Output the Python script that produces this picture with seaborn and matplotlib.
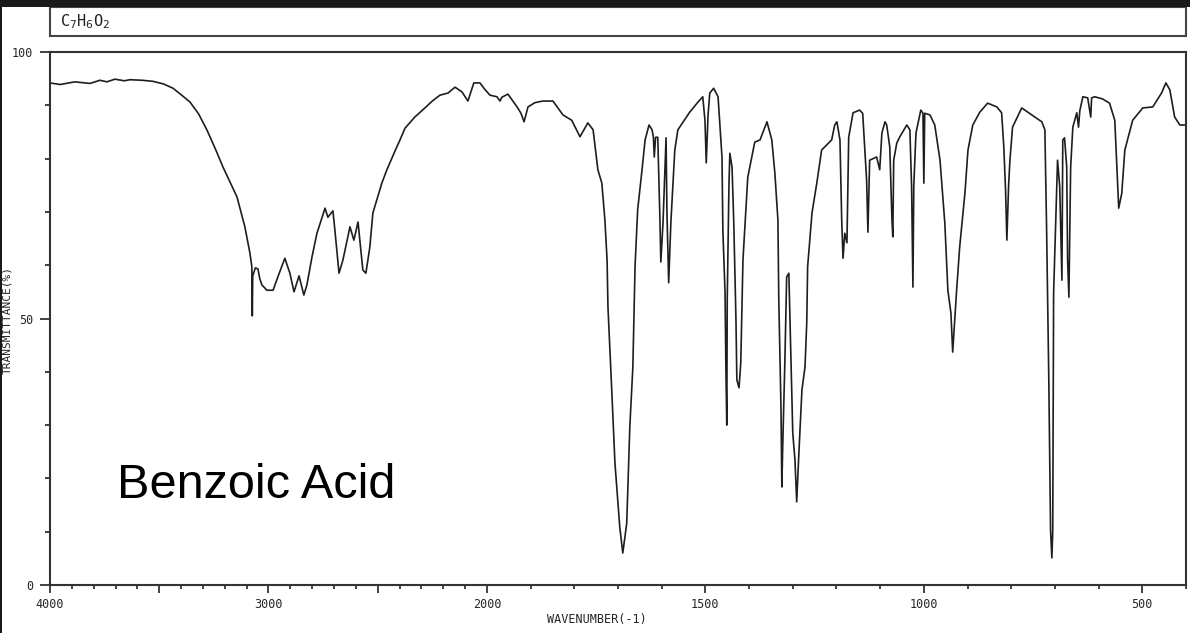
import numpy as np
import pandas as pd
import seaborn as sns
import matplotlib.pyplot as plt
from matplotlib.patches import Rectangle
from matplotlib.ticker import FixedLocator

sns.set_style("white")
plt.rcParams['font.family'] = ['DejaVu Sans Mono']

# IR spectrum of benzoic acid
wavenumber = [
    4000, 3954, 3886, 3817, 3771, 3740, 3703, 3660, 3634, 3580, 3529, 3480, 3437, 3400,
    3359, 3320, 3282, 3245, 3208, 3175, 3144, 3108, 3085, 3076, 3074, 3072, 3060, 3048,
    3040, 3030, 3007, 2979, 2957, 2925, 2902, 2883, 2860, 2838, 2824, 2801, 2778, 2741,
    2728, 2705, 2696, 2677, 2659, 2627, 2609, 2590, 2568, 2554, 2536, 2522, 2481, 2458,
    2420, 2398, 2375, 2330, 2284, 2250, 2215, 2178, 2146, 2114, 2087, 2060, 2032, 2010,
    1993, 1977, 1970, 1966, 1952, 1931, 1922, 1915, 1906, 1890, 1872, 1849, 1826, 1806,
    1787, 1769, 1757, 1746, 1737, 1730, 1725, 1723, 1714, 1707, 1696, 1689, 1680, 1673,
    1666, 1661, 1655, 1645, 1638, 1629, 1622, 1619, 1617, 1614, 1609, 1604, 1602, 1597,
    1590, 1588, 1584, 1579, 1570, 1563, 1536, 1517, 1506, 1501, 1498, 1494, 1490, 1481,
    1471, 1462, 1460, 1455, 1453, 1451, 1450, 1446, 1444, 1439, 1435, 1430, 1428, 1423,
    1419, 1414, 1403, 1387, 1375, 1359, 1348, 1341, 1334, 1332, 1327, 1325, 1323, 1318,
    1314, 1309, 1304, 1300, 1295, 1291, 1286, 1279, 1272, 1268, 1266, 1256, 1245, 1234,
    1222, 1211, 1204, 1199, 1192, 1188, 1185, 1181, 1176, 1172, 1162, 1147, 1140, 1131,
    1128, 1124, 1108, 1101, 1096, 1089, 1085, 1078, 1073, 1071, 1069, 1062, 1055, 1039,
    1032, 1028, 1025, 1023, 1018, 1007, 1002, 1000, 998, 986, 975, 963, 952, 945,
    938, 934, 929, 925, 918, 906, 899, 888, 872, 854, 833, 822, 817, 813,
    810, 806, 803, 797, 776, 753, 730, 723, 719, 714, 710, 707, 705, 703,
    696, 694, 689, 684, 682, 678, 673, 671, 668, 664, 659, 650, 646, 643,
    636, 625, 618, 616, 609, 591, 575, 563, 559, 554, 547, 540, 522, 499,
    476, 456, 446, 437, 426, 414, 403,
]
transmittance = [
    94.2, 93.9, 94.4, 94.1, 94.7, 94.4, 94.9, 94.6, 94.8, 94.7, 94.5, 94.0, 93.2, 92.0,
    90.6, 88.4, 85.4, 82.0, 78.4, 75.5, 72.8, 67.2, 62.3, 59.7, 50.5, 58.0, 59.5, 59.3,
    57.5, 56.3, 55.3, 55.3, 57.8, 61.3, 58.5, 55.0, 58.0, 54.4, 56.3, 61.5, 66.0, 70.7,
    69.0, 70.2, 66.6, 58.5, 61.0, 67.2, 64.7, 68.1, 59.1, 58.5, 63.4, 69.8, 75.4, 77.9,
    81.5, 83.5, 85.7, 87.8, 89.5, 90.8, 91.9, 92.3, 93.4, 92.5, 90.8, 94.2, 94.2, 93.0,
    91.9, 91.6, 90.8, 91.5, 92.1, 89.7, 88.5, 86.9, 89.7, 90.5, 90.8, 90.8, 88.2, 87.2,
    84.1, 86.7, 85.4, 77.9, 75.4, 68.5, 61.0, 52.2, 36.0, 22.9, 10.9, 6.0, 11.6, 29.6,
    40.9, 59.7, 70.4, 77.9, 83.5, 86.3, 85.4, 84.0, 80.3, 84.0, 84.0, 68.5, 60.6, 67.9,
    83.9, 70.0, 56.7, 68.0, 81.6, 85.4, 88.7, 90.6, 91.6, 87.2, 79.2, 88.0, 92.3, 93.2,
    91.6, 80.3, 66.6, 54.8, 40.3, 30.0, 53.5, 75.4, 81.0, 78.4, 67.9, 49.7, 38.5, 37.0,
    41.7, 61.0, 76.5, 83.1, 83.5, 86.9, 83.5, 77.3, 68.5, 53.5, 33.4, 18.4, 26.0, 42.2,
    57.8, 58.5, 42.0, 28.5, 23.5, 15.6, 24.8, 36.6, 40.9, 49.2, 59.7, 69.8, 75.4, 81.6,
    82.6, 83.5, 86.3, 86.9, 83.5, 68.5, 61.3, 66.0, 64.2, 84.0, 88.6, 89.1, 88.5, 76.0,
    66.2, 79.7, 80.3, 77.9, 84.8, 86.9, 86.3, 82.2, 68.5, 65.3, 79.7, 82.9, 84.1, 86.3,
    85.4, 74.7, 55.9, 75.0, 84.8, 89.1, 88.5, 75.4, 88.5, 88.2, 86.3, 79.7, 67.9, 55.3,
    51.0, 43.7, 50.3, 55.3, 63.4, 73.5, 81.6, 86.3, 88.7, 90.4, 89.7, 88.6, 82.2, 74.1,
    64.7, 75.0, 79.7, 85.9, 89.5, 88.2, 86.9, 85.4, 66.6, 38.5, 10.3, 5.1, 10.0, 54.8,
    74.7, 79.7, 74.7, 57.2, 83.5, 83.9, 78.4, 61.0, 54.0, 78.4, 85.9, 88.6, 85.9, 89.0,
    91.6, 91.4, 87.8, 91.4, 91.6, 91.2, 90.4, 87.2, 79.7, 70.7, 73.5, 81.6, 87.2, 89.5,
    89.7, 92.3, 94.2, 92.9, 87.8, 86.3, 86.3,
]

x_major = [4000, 3500, 3000, 2500, 2000, 1500, 1000, 500]
x_labels = ["4000", "", "3000", "", "2000", "1500", "1000", "500"]
y_major = [0, 50, 100]
y_labels = ["0", "50", "100"]

df = pd.DataFrame({"wavenumber": wavenumber, "transmittance": transmittance})


# the chart squeezes the range above 2000 to half scale
def fwd(w):
    w = np.asarray(w, dtype=float)
    return np.where(w > 2000, 2000 + (w - 2000) / 2, w)


def inv(u):
    u = np.asarray(u, dtype=float)
    return np.where(u > 2000, 2000 + (u - 2000) * 2, u)


fig = plt.figure(figsize=(11.9, 6.33), dpi=100)
ax = fig.add_axes([50 / 1190, 1 - 585 / 633, 1136 / 1190, 533 / 633])

sns.lineplot(data=df, x="wavenumber", y="transmittance", ax=ax,
             estimator=None, sort=False, color="#1e1e1e", lw=1.2)

ax.set_xscale("function", functions=(fwd, inv))
ax.set_xlim(4000, 400)
ax.set_ylim(0, 100)

ax.xaxis.set_major_locator(FixedLocator(x_major))
ax.set_xticklabels(x_labels)
ax.xaxis.set_minor_locator(FixedLocator([w for w in range(400, 4000, 100) if w not in x_major]))
ax.set_yticks(y_major)
ax.set_yticklabels(y_labels)
ax.yaxis.set_minor_locator(FixedLocator([10, 20, 30, 40, 60, 70, 80, 90]))

ax.tick_params(axis="x", which="major", direction="out", length=6, width=1.3,
               color="#333333", labelsize=8.5, pad=3)
ax.tick_params(axis="x", which="minor", direction="out", length=3, width=1.3, color="#333333")
ax.tick_params(axis="y", which="major", direction="out", length=7, width=1.3,
               color="#333333", labelsize=8.5, pad=5)
ax.tick_params(axis="y", which="minor", direction="out", length=3.5, width=1.3, color="#333333")
ax.tick_params(bottom=True, left=True, which="both")

for s in ax.spines.values():
    s.set_color("#333333")
    s.set_linewidth(1.5)

ax.set_xlabel("WAVENUMBER(-1)", fontsize=8.5, labelpad=4)
ax.xaxis.set_label_coords((597 - 50) / 1136, -28 / 533)
ax.set_ylabel("TRANSMITTANCE(%)", fontsize=8)
ax.yaxis.set_label_coords(-38 / 1136, (585 - 320) / 533)

# formula box above the plot
box = Rectangle((50 / 1190, 1 - 36 / 633), 1136 / 1190, 29 / 633, transform=fig.transFigure,
                fill=False, edgecolor="#444444", lw=1.5)
fig.patches.append(box)
fig.text(60 / 1190, 1 - 22 / 633, r"C$_7$H$_6$O$_2$", fontsize=11, va="center", ha="left",
         color="#222222")

# black band at top, thin rule at left
fig.patches.append(Rectangle((0, 1 - 7 / 633), 1, 7 / 633, transform=fig.transFigure,
                             color="#1a1a1a", lw=0))
fig.patches.append(Rectangle((0, 0), 2 / 1190, 1, transform=fig.transFigure,
                             color="#1a1a1a", lw=0))

fig.text(117 / 1190, 1 - 498 / 633, "Benzoic Acid", fontsize=35, family="Liberation Sans",
         va="baseline", ha="left", color="black")

plt.savefig("out.png", dpi=100)
